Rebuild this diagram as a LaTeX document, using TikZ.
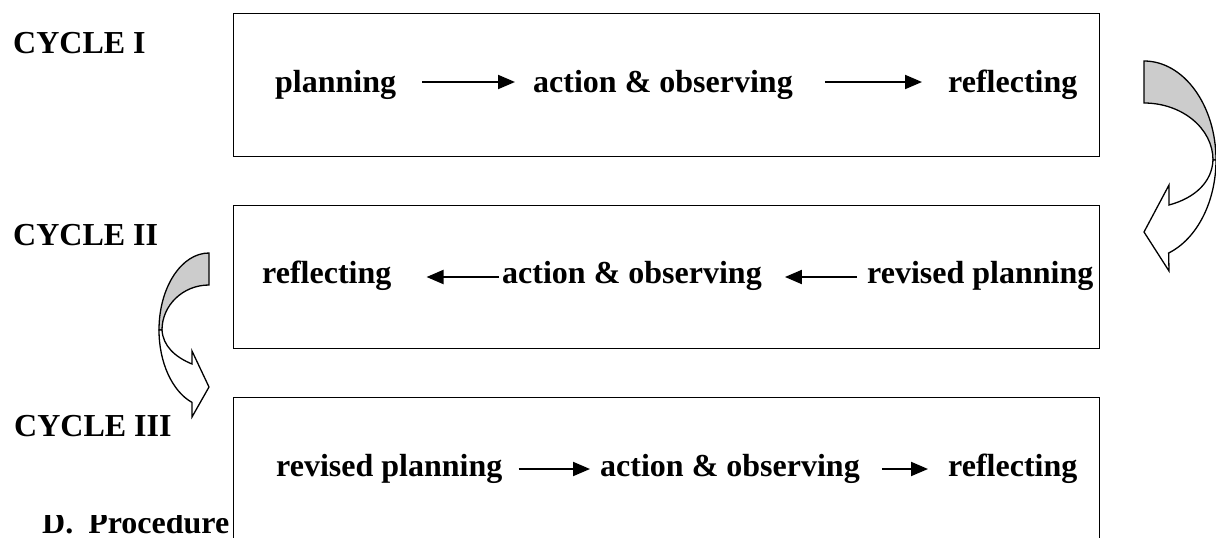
\documentclass[tikz,border=0pt]{standalone}
\usepackage{fontspec}
\setmainfont{Liberation Serif}
\usetikzlibrary{arrows.meta}
\begin{document}
\begin{tikzpicture}[x=1pt,y=-1pt,
  lbl/.style={font=\fontsize{32}{38}\selectfont\bfseries, inner sep=0pt, anchor=base west},
  box/.style={draw, line width=1.3pt, inner sep=0pt, anchor=north west, minimum width=866pt, minimum height=143pt},
  flow/.style={line width=2pt, -{Triangle[length=17pt,width=14pt]}},
  curvearrow/.style={draw, line width=1.3pt, line join=miter}]
\useasboundingbox (0,0) rectangle (1216,538);
\clip (0,0) rectangle (1216,538);

% boxes
\node[box] (box1) at (233,13) {};
\node[box] (box2) at (233,205) {};
\node[box] (box3) at (233,397) {};

% cycle labels
\node[lbl] (c1) at (13,53) {CYCLE I};
\node[lbl] (c2) at (13,245) {CYCLE II};
\node[lbl] (c3) at (14,436) {CYCLE III};

% row 1
\node[lbl] (p1) at (275,92) {planning};
\node[lbl] (a1) at (533,92) {action \& observing};
\node[lbl] (r1) at (948,92) {reflecting};
\draw[flow] ([shift={(26,-10)}]p1.base east) -- ([shift={(-18,-10)}]a1.base west);
\draw[flow] ([shift={(32,-10)}]a1.base east) -- ([shift={(-26,-10)}]r1.base west);

% row 2
\node[lbl] (r2) at (262,283) {reflecting};
\node[lbl] (a2) at (502,283) {action \& observing};
\node[lbl] (v2) at (867,283) {revised planning};
\draw[flow] ([shift={(-3,-6)}]a2.base west) -- ([shift={(35,-6)}]r2.base east);
\draw[flow] ([shift={(-10,-6)}]v2.base west) -- ([shift={(23,-6)}]a2.base east);

% row 3
\node[lbl] (v3) at (276,476) {revised planning};
\node[lbl] (a3) at (600,476) {action \& observing};
\node[lbl] (r3) at (948,476) {reflecting};
\draw[flow] ([shift={(16,-7)}]v3.base east) -- ([shift={(-10,-7)}]a3.base west);
\draw[flow] ([shift={(22,-7)}]a3.base east) -- ([shift={(-20,-7)}]r3.base west);

% right curved arrow (cycle I -> II)
\filldraw[curvearrow, fill=gray!40] (1144,61) arc[start angle=-90, end angle=0, x radius=72, y radius=99]
  -- (1213,160) arc[start angle=0, end angle=-90, x radius=69, y radius=57] -- cycle;
\filldraw[curvearrow, fill=white] (1216,160) arc[start angle=0, end angle=70, x radius=72, y radius=99]
  -- (1169,271) -- (1144,232) -- (1169,185) -- (1169,205)
  .. controls (1195,198) and (1212,182) .. (1213,160) -- cycle;

% left curved arrow (cycle II -> III)
\filldraw[curvearrow, fill=gray!40] (209,253) arc[start angle=-90, end angle=-180, x radius=50, y radius=77]
  -- (162,330) arc[start angle=180, end angle=270, x radius=47, y radius=45] -- cycle;
\filldraw[curvearrow, fill=white] (159,330) arc[start angle=180, end angle=110, x radius=50, y radius=77]
  -- (192,417) -- (209,387) -- (192,351) -- (192,364)
  .. controls (175,357) and (163,346) .. (162,330) -- cycle;

% clipped heading
\begin{scope}
\clip (0,515) rectangle (232,538);
\node[lbl] (dp) at (42,533) {D.\hspace{15pt}Procedure};
\end{scope}
\end{tikzpicture}
\end{document}
